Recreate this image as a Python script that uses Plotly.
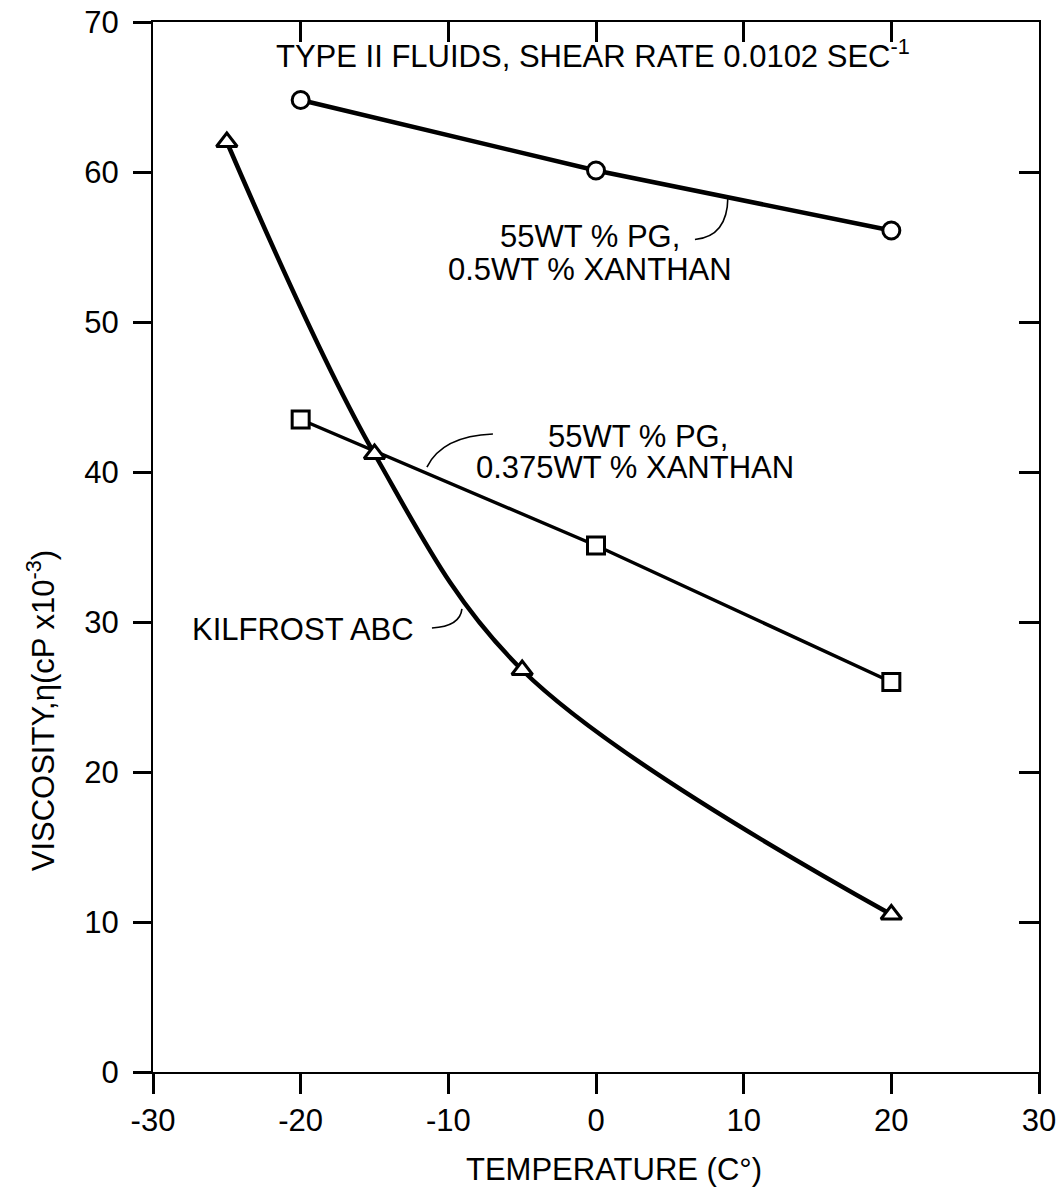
import plotly.graph_objects as go

# ---- data ----
temp_05 = [-20, 0, 20]
visc_05 = [64.8, 60.1, 56.1]

temp_0375 = [-20, 0, 20]
visc_0375 = [43.5, 35.1, 26.0]

temp_kil = [-25, -15, -5, 20]
visc_kil = [62.0, 41.2, 26.8, 10.5]

x_ticks = [-30, -20, -10, 0, 10, 20, 30]
x_ticklabels = ["-30", "-20", "-10", "0", "10", "20", "30"]
y_ticks = [0, 10, 20, 30, 40, 50, 60, 70]
y_ticklabels = ["0", "10", "20", "30", "40", "50", "60", "70"]

FONT = "Liberation Sans, Arial, Helvetica, sans-serif"
FS = 31

fig = go.Figure()

fig.add_trace(go.Scatter(
    x=temp_05, y=visc_05, mode="lines+markers",
    line=dict(color="black", width=4.5),
    marker=dict(symbol="circle", size=17, color="white", line=dict(color="black", width=3)),
    showlegend=False))

fig.add_trace(go.Scatter(
    x=temp_0375, y=visc_0375, mode="lines+markers",
    line=dict(color="black", width=3.5),
    marker=dict(symbol="square", size=17, color="white", line=dict(color="black", width=3)),
    showlegend=False))

fig.add_trace(go.Scatter(
    x=temp_kil, y=visc_kil, mode="lines+markers",
    line=dict(color="black", width=4.5, shape="spline", smoothing=1.0),
    marker=dict(symbol="triangle-up", size=18, color="white", line=dict(color="black", width=3)),
    showlegend=False))

# invisible trace to anchor the mirror axes (top / right, inside ticks)
fig.add_trace(go.Scatter(x=[None], y=[None], xaxis="x2", yaxis="y2",
                         showlegend=False, hoverinfo="skip"))

axis_common = dict(showgrid=False, zeroline=False, showline=True,
                   linecolor="black", linewidth=2, tickcolor="black",
                   tickwidth=3, automargin=False)

fig.update_layout(
    template="none",
    width=1060, height=1192,
    margin=dict(l=153, r=21, t=22, b=120),
    paper_bgcolor="white", plot_bgcolor="white",
    font=dict(family=FONT, size=FS, color="black"),
    xaxis=dict(range=[-30, 30], tickvals=x_ticks, ticktext=x_ticklabels,
               ticks="outside", ticklen=20, tickfont=dict(size=FS),
               ticklabeloverflow="allow", **axis_common),
    yaxis=dict(range=[0, 70], tickvals=y_ticks, ticktext=y_ticklabels,
               ticks="outside", ticklen=18, ticklabelstandoff=8,
               tickfont=dict(size=FS), ticklabeloverflow="allow", **axis_common),
    xaxis2=dict(range=[-30, 30], tickvals=x_ticks, ticks="inside", ticklen=20,
                overlaying="x", side="top", anchor="y", showticklabels=False,
                **axis_common),
    yaxis2=dict(range=[0, 70], tickvals=y_ticks, ticks="inside", ticklen=20,
                overlaying="y", side="right", anchor="x", showticklabels=False,
                **axis_common),
)

ann_font = dict(family=FONT, size=FS, color="black")


def label(x, y, text, xanchor="center", xref="x", yref="y", **kw):
    fig.add_annotation(x=x, y=y, xref=xref, yref=yref, xanchor=xanchor,
                       yanchor="middle", text=text, showarrow=False,
                       font=ann_font, **kw)


label(-21.8, 67.9, "TYPE II FLUIDS, SHEAR RATE 0.0102 SEC<sup>-1</sup>", xanchor="left")
label(-0.41, 55.67, "55WT % PG,")
label(-0.41, 53.47, "0.5WT % XANTHAN")
label(2.84, 42.4, "55WT % PG,")
label(2.64, 40.33, "0.375WT % XANTHAN")
label(-19.84, 29.5, "KILFROST ABC")

# axis titles
label(0.52, -0.093, "TEMPERATURE (C°)", xref="paper", yref="paper")
label(-0.127, 0.344, "VISCOSITY,η(cP x10<sup>-3</sup>)", xref="paper", yref="paper",
      textangle=-90)

# curved leader lines
lead = dict(color="black", width=1.6)
fig.add_shape(type="path", xref="x", yref="y",
              path="M 6.7,55.5 Q 8.9,55.7 8.93,58.3", line=lead)
fig.add_shape(type="path", xref="x", yref="y",
              path="M -6.98,42.53 Q -10.4,42.4 -11.45,40.33", line=lead)
fig.add_shape(type="path", xref="x", yref="y",
              path="M -11.11,29.6 Q -9.2,29.7 -9.08,30.87", line=lead)

# remove the page's default body margin so the figure fills the window exactly
fig.write_html("out.html",
               config={"displayModeBar": False},
               post_script="document.body.style.margin='0';"
                           "document.body.style.overflow='hidden';")
